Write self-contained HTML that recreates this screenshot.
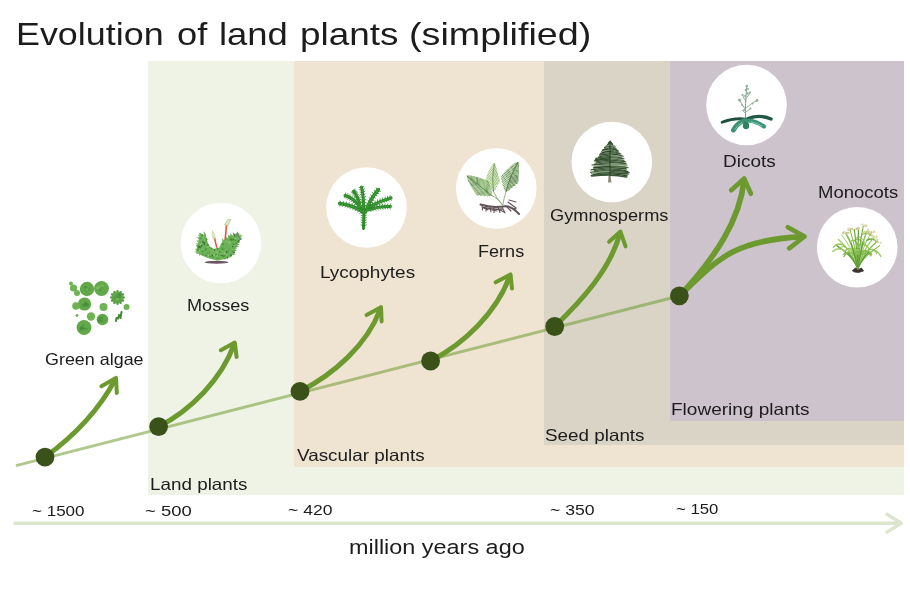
<!DOCTYPE html>
<html><head><meta charset="utf-8">
<style>
html,body{margin:0;padding:0;background:#fff;}
body{width:910px;height:607px;position:relative;overflow:hidden;font-family:"Liberation Sans",sans-serif;color:#1c1c1c;}
.r{position:absolute;}
.t{position:absolute;white-space:nowrap;line-height:1;transform-origin:0 0;}
svg{position:absolute;left:0;top:0;}
</style></head><body>
<div class="r" style="left:147.5px;top:61px;width:756px;height:434px;background:#eff3e6"></div>
<div class="r" style="left:294px;top:61px;width:609.5px;height:406px;background:#efe3d2"></div>
<div class="r" style="left:544px;top:61px;width:359.5px;height:384px;background:#dad4c6"></div>
<div class="r" style="left:670px;top:61px;width:233.5px;height:360px;background:#cdc3cc"></div>
<svg width="910" height="607" viewBox="0 0 910 607">
<line x1="16" y1="465.600" x2="680" y2="295.700" stroke="#6d9a2f" stroke-opacity="0.55" stroke-width="3"/>
<g fill="none" stroke="#6d9a2f" stroke-width="5" stroke-linecap="round" stroke-linejoin="round">
<path d="M45.0 457.1 C72.9 436.8 98.9 410.1 115.1 379.6"/><path stroke-width="4" d="M101.4 386.3 L116.0 377.9 L116.8 392.9"/>
<path d="M158.6 426.6 C191.4 409.9 221.5 379.0 234.1 344.4"/><path stroke-width="4" d="M220.8 350.2 L234.8 342.6 L236.6 357.0"/>
<path d="M300.0 391.4 C333.8 374.2 367.3 344.7 380.3 309.0"/><path stroke-width="4" d="M366.6 315.1 L381.0 307.2 L381.6 321.4"/>
<path d="M430.6 361.0 C464.7 343.6 496.7 312.2 509.8 276.2"/><path stroke-width="4" d="M495.7 282.3 L510.5 274.4 L512.0 288.6"/>
<path d="M554.7 326.5 C581.7 300.4 610.2 269.6 619.9 233.4"/><path stroke-width="4" d="M609.1 241.8 L620.4 231.6 L625.6 246.4"/>
<path stroke-width="5.7" d="M679.8 295.7 C715.8 257.1 739.8 219.8 744.0 180.5"/><path stroke-width="4.7" d="M731.2 190.3 L744.2 178.6 L750.9 193.7"/>
<path stroke-width="5.7" d="M679.8 295.7 C719.0 257.8 734.5 240.1 802.6 236.6"/><path stroke-width="4.7" d="M787.8 227.2 L804.5 236.5 L789.2 248.3"/>
</g>
<g fill="#3a5219">
<circle cx="45" cy="457.100" r="9.400"/><circle cx="158.600" cy="426.600" r="9.400"/><circle cx="300" cy="391.400" r="9.400"/>
<circle cx="430.600" cy="361" r="9.400"/><circle cx="554.700" cy="326.500" r="9.400"/><circle cx="679.400" cy="295.800" r="9.400"/>
</g>
<line x1="13.600" y1="523.200" x2="900" y2="523.200" stroke="#dce5cd" stroke-width="3.400"/>
<path d="M887 514.300 L901.300 523.200 L887 532" fill="none" stroke="#dce5cd" stroke-width="3.400" stroke-linecap="round" stroke-linejoin="round"/>
<g fill="#fff">
<circle cx="221" cy="243" r="40.300"/><circle cx="366.500" cy="207.500" r="40.300"/><circle cx="496.300" cy="188.500" r="40.300"/>
<circle cx="611.800" cy="162" r="40.300"/><circle cx="746.500" cy="105" r="40.300"/><circle cx="857.200" cy="247.200" r="40.300"/>
</g>
<!--PLANTS-->
<defs><filter id="bl" x="-20%" y="-20%" width="140%" height="140%"><feGaussianBlur stdDeviation="0.45"/></filter><filter id="bl2" x="-20%" y="-20%" width="140%" height="140%"><feGaussianBlur stdDeviation="0.3"/></filter></defs>
<!-- algae --><g filter="url(#bl)"><circle cx="87.0" cy="289.0" r="7.2" fill="#62a848"/><circle cx="86.7" cy="289.6" r="1.8" fill="#4f9640"/><circle cx="87.2" cy="288.6" r="1.7" fill="#57a044"/><circle cx="88.8" cy="289.4" r="1.1" fill="#4f9640"/><circle cx="86.8" cy="288.9" r="1.7" fill="#57a044"/><circle cx="85.3" cy="287.2" r="1.1" fill="#4a8f3b"/><circle cx="87.9" cy="289.3" r="1.7" fill="#57a044"/><circle cx="86.8" cy="289.6" r="1.1" fill="#7aba5e"/><circle cx="101.5" cy="288.5" r="7.4" fill="#62a848"/><circle cx="98.7" cy="287.4" r="1.1" fill="#57a044"/><circle cx="99.8" cy="290.2" r="1.1" fill="#4f9640"/><circle cx="99.9" cy="287.0" r="1.6" fill="#7aba5e"/><circle cx="97.5" cy="289.4" r="1.4" fill="#57a044"/><circle cx="102.3" cy="285.5" r="1.3" fill="#7aba5e"/><circle cx="97.7" cy="287.9" r="1.9" fill="#7aba5e"/><circle cx="101.2" cy="288.3" r="1.6" fill="#57a044"/><circle cx="84.5" cy="304.0" r="6.6" fill="#62a848"/><circle cx="84.5" cy="303.4" r="1.6" fill="#4f9640"/><circle cx="84.8" cy="303.9" r="1.7" fill="#7aba5e"/><circle cx="83.8" cy="305.2" r="1.6" fill="#4a8f3b"/><circle cx="84.8" cy="304.2" r="1.3" fill="#4f9640"/><circle cx="87.1" cy="305.0" r="1.8" fill="#4a8f3b"/><circle cx="84.2" cy="305.5" r="1.8" fill="#4f9640"/><circle cx="85.8" cy="303.5" r="1.7" fill="#4a8f3b"/><circle cx="84.0" cy="327.5" r="7.4" fill="#62a848"/><circle cx="87.2" cy="328.7" r="1.2" fill="#57a044"/><circle cx="80.7" cy="329.9" r="1.6" fill="#57a044"/><circle cx="81.7" cy="328.3" r="2.1" fill="#4a8f3b"/><circle cx="84.8" cy="326.6" r="1.5" fill="#7aba5e"/><circle cx="83.3" cy="326.0" r="1.3" fill="#4f9640"/><circle cx="84.5" cy="328.4" r="1.3" fill="#4a8f3b"/><circle cx="84.4" cy="326.8" r="1.3" fill="#57a044"/><circle cx="102.5" cy="319.5" r="5.8" fill="#62a848"/><circle cx="101.4" cy="320.1" r="1.7" fill="#57a044"/><circle cx="101.8" cy="317.8" r="1.7" fill="#4f9640"/><circle cx="99.6" cy="320.3" r="2.1" fill="#4a8f3b"/><circle cx="101.4" cy="320.3" r="1.6" fill="#4a8f3b"/><circle cx="102.7" cy="319.6" r="1.3" fill="#57a044"/><circle cx="104.1" cy="320.8" r="1.1" fill="#57a044"/><circle cx="99.3" cy="318.8" r="1.7" fill="#4f9640"/><circle cx="117.5" cy="297.5" r="6.2" fill="#62a848"/><circle cx="119.1" cy="295.9" r="1.2" fill="#7aba5e"/><circle cx="119.7" cy="296.9" r="1.6" fill="#4f9640"/><circle cx="119.6" cy="294.5" r="1.6" fill="#4a8f3b"/><circle cx="117.3" cy="298.0" r="1.9" fill="#7aba5e"/><circle cx="114.9" cy="297.8" r="1.6" fill="#57a044"/><circle cx="119.4" cy="296.9" r="1.2" fill="#4f9640"/><circle cx="117.6" cy="296.4" r="1.8" fill="#4f9640"/><circle cx="73.5" cy="288.0" r="3.6" fill="#70b355"/><circle cx="77.0" cy="293.0" r="3.0" fill="#70b355"/><circle cx="71.0" cy="283.5" r="2.0" fill="#70b355"/><circle cx="76.0" cy="306.0" r="3.8" fill="#70b355"/><circle cx="103.5" cy="307.0" r="4.0" fill="#70b355"/><circle cx="126.5" cy="307.0" r="3.0" fill="#70b355"/><circle cx="91.0" cy="316.5" r="4.2" fill="#70b355"/><circle cx="77.0" cy="315.5" r="1.4" fill="#70b355"/><circle cx="123.9" cy="297.5" r="1.1" fill="#4f9640"/><circle cx="123.0" cy="300.7" r="1.1" fill="#4f9640"/><circle cx="120.7" cy="303.0" r="1.1" fill="#4f9640"/><circle cx="117.5" cy="303.9" r="1.1" fill="#4f9640"/><circle cx="114.3" cy="303.0" r="1.1" fill="#4f9640"/><circle cx="112.0" cy="300.7" r="1.1" fill="#4f9640"/><circle cx="111.1" cy="297.5" r="1.1" fill="#4f9640"/><circle cx="112.0" cy="294.3" r="1.1" fill="#4f9640"/><circle cx="114.3" cy="292.0" r="1.1" fill="#4f9640"/><circle cx="117.5" cy="291.1" r="1.1" fill="#4f9640"/><circle cx="120.7" cy="292.0" r="1.1" fill="#4f9640"/><circle cx="123.0" cy="294.3" r="1.1" fill="#4f9640"/><path d="M121.5 312 l-1 6 M119 315 l-.8 3.500 M116.500 318 l-.5 3" stroke="#3f8a35" stroke-width="2" stroke-linecap="round" fill="none"/></g>
<!-- moss --><g transform="translate(181,203)" filter="url(#bl2)"><ellipse cx="35.500" cy="59.300" rx="12" ry="1.500" fill="#6b5562"/><path d="M15.0 48.5 L17.0 40.0 L19.0 29.5 L22.0 32.0 L24.5 30.5 L26.0 38.0 L28.5 43.5 L33.0 46.0 L38.0 45.0 L42.0 37.5 L48.0 34.0 L55.0 30.5 L60.0 32.5 L59.0 37.0 L56.0 42.0 L53.0 50.0 L50.0 54.0 L44.0 56.0 L37.0 57.5 L30.0 56.0 L24.0 54.0 L18.0 51.0 Z" fill="#6db158"/><path d="M15.7 45.7 L13.9 45.7 L15.3 47.4 Z" fill="#6bb055"/><path d="M16.5 42.2 L14.6 42.2 L16.1 44.0 Z" fill="#5ea64a"/><path d="M16.9 40.4 L14.5 40.3 L16.5 42.2 Z" fill="#6bb055"/><path d="M17.5 37.4 L15.3 37.4 L17.1 39.2 Z" fill="#5ea64a"/><path d="M18.1 34.4 L15.6 34.3 L17.7 36.1 Z" fill="#4f9640"/><path d="M18.6 31.8 L16.9 31.9 L18.2 33.5 Z" fill="#6bb055"/><path d="M18.8 30.3 L17.5 30.5 L18.5 32.1 Z" fill="#5ea64a"/><path d="M20.7 30.9 L20.2 32.4 L22.1 32.1 Z" fill="#5ea64a"/><path d="M24.5 30.5 L22.4 28.3 L23.0 31.4 Z" fill="#6bb055"/><path d="M24.7 31.6 L22.7 32.5 L25.1 33.4 Z" fill="#6bb055"/><path d="M25.3 34.5 L23.8 35.2 L25.7 36.3 Z" fill="#5ea64a"/><path d="M25.4 34.9 L23.7 35.6 L25.7 36.6 Z" fill="#6bb055"/><path d="M25.9 37.7 L24.4 38.9 L26.6 39.4 Z" fill="#4f9640"/><path d="M27.9 42.2 L26.6 43.3 L28.7 43.9 Z" fill="#4f9640"/><path d="M28.5 43.5 L28.3 45.3 L30.1 44.4 Z" fill="#4f9640"/><path d="M30.2 44.5 L30.2 45.9 L31.8 45.3 Z" fill="#4f9640"/><path d="M34.0 45.8 L35.2 47.0 L35.8 45.4 Z" fill="#5ea64a"/><path d="M35.7 45.5 L37.0 46.8 L37.5 45.1 Z" fill="#5ea64a"/><path d="M38.6 43.8 L41.3 43.7 L39.5 42.2 Z" fill="#6bb055"/><path d="M39.5 42.1 L41.9 41.9 L40.4 40.5 Z" fill="#5ea64a"/><path d="M41.2 39.0 L42.9 38.4 L42.1 37.4 Z" fill="#5ea64a"/><path d="M42.8 37.0 L41.0 35.2 L41.3 37.9 Z" fill="#6bb055"/><path d="M46.4 34.9 L44.9 33.7 L44.8 35.8 Z" fill="#4f9640"/><path d="M48.7 33.6 L46.9 31.7 L47.2 34.5 Z" fill="#6bb055"/><path d="M49.2 33.4 L47.5 31.6 L47.6 34.2 Z" fill="#5ea64a"/><path d="M51.2 32.4 L49.2 30.0 L49.6 33.2 Z" fill="#4f9640"/><path d="M53.7 31.1 L51.9 29.0 L52.1 31.9 Z" fill="#5ea64a"/><path d="M56.9 31.3 L57.0 28.2 L55.2 30.6 Z" fill="#5ea64a"/><path d="M58.4 31.9 L58.1 29.6 L56.7 31.2 Z" fill="#4f9640"/><path d="M59.7 33.9 L61.9 33.0 L60.1 32.2 Z" fill="#6bb055"/><path d="M59.0 36.9 L61.5 36.0 L59.4 35.1 Z" fill="#5ea64a"/><path d="M57.2 40.0 L59.1 39.6 L58.1 38.5 Z" fill="#6bb055"/><path d="M56.0 41.9 L58.5 41.9 L57.0 40.4 Z" fill="#4f9640"/><path d="M55.3 44.0 L57.9 43.5 L55.9 42.3 Z" fill="#4f9640"/><path d="M54.6 45.9 L56.2 45.0 L55.2 44.2 Z" fill="#4f9640"/><path d="M53.7 48.2 L55.7 47.5 L54.3 46.5 Z" fill="#5ea64a"/><path d="M51.5 51.9 L53.9 52.1 L52.6 50.5 Z" fill="#5ea64a"/><path d="M18.2 51.1 L18.1 52.8 L19.8 51.9 Z" fill="#5ea64a"/><path d="M16.0 49.3 L15.4 51.0 L17.4 50.5 Z" fill="#4f9640"/><ellipse cx="27.0" cy="43.7" rx="1.2" ry="0.9" transform="rotate(178 27.0 43.7)" fill="#8fcb78"/><ellipse cx="38.6" cy="54.4" rx="1.6" ry="0.8" transform="rotate(51 38.6 54.4)" fill="#6db757"/><ellipse cx="53.5" cy="33.0" rx="1.2" ry="0.6" transform="rotate(171 53.5 33.0)" fill="#4a9039"/><ellipse cx="45.5" cy="51.7" rx="0.9" ry="0.8" transform="rotate(169 45.5 51.7)" fill="#8fcb78"/><ellipse cx="20.5" cy="42.6" rx="1.7" ry="0.6" transform="rotate(124 20.5 42.6)" fill="#35742d"/><ellipse cx="21.7" cy="48.4" rx="0.9" ry="0.6" transform="rotate(131 21.7 48.4)" fill="#3f8233"/><ellipse cx="35.6" cy="49.4" rx="1.1" ry="0.7" transform="rotate(131 35.6 49.4)" fill="#7fc267"/><ellipse cx="59.2" cy="32.3" rx="1.0" ry="0.8" transform="rotate(21 59.2 32.3)" fill="#8fcb78"/><ellipse cx="50.6" cy="36.8" rx="1.5" ry="0.8" transform="rotate(173 50.6 36.8)" fill="#3f8233"/><ellipse cx="52.5" cy="36.5" rx="1.3" ry="0.7" transform="rotate(126 52.5 36.5)" fill="#3f8233"/><ellipse cx="16.7" cy="49.0" rx="1.6" ry="0.5" transform="rotate(4 16.7 49.0)" fill="#7fc267"/><ellipse cx="43.8" cy="52.2" rx="1.3" ry="0.5" transform="rotate(67 43.8 52.2)" fill="#4a9039"/><ellipse cx="54.6" cy="42.2" rx="1.7" ry="0.6" transform="rotate(68 54.6 42.2)" fill="#6db757"/><ellipse cx="43.5" cy="44.4" rx="1.1" ry="0.7" transform="rotate(45 43.5 44.4)" fill="#3f8233"/><ellipse cx="26.7" cy="52.3" rx="0.8" ry="0.4" transform="rotate(129 26.7 52.3)" fill="#6db757"/><ellipse cx="36.3" cy="56.1" rx="1.4" ry="0.7" transform="rotate(168 36.3 56.1)" fill="#4a9039"/><ellipse cx="37.3" cy="53.2" rx="1.7" ry="0.6" transform="rotate(55 37.3 53.2)" fill="#7fc267"/><ellipse cx="53.1" cy="49.5" rx="0.9" ry="0.9" transform="rotate(13 53.1 49.5)" fill="#35742d"/><ellipse cx="43.4" cy="54.5" rx="0.9" ry="0.4" transform="rotate(97 43.4 54.5)" fill="#7fc267"/><ellipse cx="27.8" cy="42.3" rx="1.0" ry="0.4" transform="rotate(93 27.8 42.3)" fill="#3f8233"/><ellipse cx="24.9" cy="46.0" rx="1.6" ry="0.5" transform="rotate(152 24.9 46.0)" fill="#57a044"/><ellipse cx="48.0" cy="47.7" rx="1.5" ry="0.8" transform="rotate(131 48.0 47.7)" fill="#4a9039"/><ellipse cx="43.5" cy="50.3" rx="1.3" ry="0.9" transform="rotate(129 43.5 50.3)" fill="#8fcb78"/><ellipse cx="40.7" cy="52.6" rx="1.5" ry="0.7" transform="rotate(174 40.7 52.6)" fill="#4a9039"/><ellipse cx="26.4" cy="42.3" rx="1.5" ry="0.7" transform="rotate(137 26.4 42.3)" fill="#4a9039"/><ellipse cx="18.3" cy="44.3" rx="1.5" ry="0.5" transform="rotate(19 18.3 44.3)" fill="#35742d"/><ellipse cx="53.8" cy="35.8" rx="1.0" ry="0.8" transform="rotate(117 53.8 35.8)" fill="#8fcb78"/><ellipse cx="36.5" cy="48.8" rx="0.8" ry="0.7" transform="rotate(50 36.5 48.8)" fill="#8fcb78"/><ellipse cx="25.9" cy="50.6" rx="1.4" ry="0.5" transform="rotate(123 25.9 50.6)" fill="#6db757"/><ellipse cx="45.6" cy="49.1" rx="1.2" ry="0.8" transform="rotate(73 45.6 49.1)" fill="#35742d"/><ellipse cx="35.6" cy="52.8" rx="1.7" ry="0.6" transform="rotate(53 35.6 52.8)" fill="#7fc267"/><ellipse cx="49.1" cy="36.6" rx="0.9" ry="0.8" transform="rotate(130 49.1 36.6)" fill="#6db757"/><ellipse cx="55.2" cy="40.4" rx="0.8" ry="0.6" transform="rotate(115 55.2 40.4)" fill="#3f8233"/><ellipse cx="33.1" cy="50.1" rx="1.1" ry="0.6" transform="rotate(84 33.1 50.1)" fill="#7fc267"/><ellipse cx="53.4" cy="32.5" rx="1.4" ry="0.9" transform="rotate(74 53.4 32.5)" fill="#3f8233"/><ellipse cx="32.3" cy="54.2" rx="1.1" ry="0.6" transform="rotate(70 32.3 54.2)" fill="#4a9039"/><ellipse cx="54.1" cy="37.1" rx="1.6" ry="0.5" transform="rotate(38 54.1 37.1)" fill="#4a9039"/><ellipse cx="25.7" cy="36.7" rx="1.1" ry="0.8" transform="rotate(109 25.7 36.7)" fill="#57a044"/><ellipse cx="43.7" cy="55.5" rx="1.3" ry="0.8" transform="rotate(12 43.7 55.5)" fill="#57a044"/><ellipse cx="54.9" cy="43.1" rx="0.9" ry="0.6" transform="rotate(87 54.9 43.1)" fill="#57a044"/><ellipse cx="48.7" cy="47.9" rx="1.4" ry="0.6" transform="rotate(142 48.7 47.9)" fill="#7fc267"/><ellipse cx="37.5" cy="52.5" rx="1.0" ry="0.9" transform="rotate(115 37.5 52.5)" fill="#57a044"/><ellipse cx="31.3" cy="52.5" rx="1.6" ry="0.8" transform="rotate(105 31.3 52.5)" fill="#3f8233"/><ellipse cx="32.0" cy="50.6" rx="1.1" ry="0.6" transform="rotate(15 32.0 50.6)" fill="#3f8233"/><ellipse cx="37.4" cy="45.7" rx="0.9" ry="0.7" transform="rotate(161 37.4 45.7)" fill="#6db757"/><ellipse cx="32.1" cy="47.7" rx="1.7" ry="0.8" transform="rotate(5 32.1 47.7)" fill="#7fc267"/><ellipse cx="20.0" cy="41.3" rx="1.6" ry="0.6" transform="rotate(150 20.0 41.3)" fill="#8fcb78"/><ellipse cx="35.1" cy="51.7" rx="0.9" ry="0.7" transform="rotate(174 35.1 51.7)" fill="#3f8233"/><ellipse cx="46.9" cy="53.5" rx="0.9" ry="0.8" transform="rotate(0 46.9 53.5)" fill="#7fc267"/><ellipse cx="50.8" cy="35.7" rx="1.4" ry="0.6" transform="rotate(32 50.8 35.7)" fill="#4a9039"/><ellipse cx="43.4" cy="44.3" rx="1.4" ry="0.5" transform="rotate(18 43.4 44.3)" fill="#7fc267"/><ellipse cx="23.0" cy="36.6" rx="1.3" ry="0.4" transform="rotate(77 23.0 36.6)" fill="#8fcb78"/><ellipse cx="28.9" cy="53.3" rx="1.2" ry="0.5" transform="rotate(63 28.9 53.3)" fill="#3f8233"/><ellipse cx="24.7" cy="41.3" rx="1.0" ry="0.4" transform="rotate(86 24.7 41.3)" fill="#6db757"/><ellipse cx="47.8" cy="39.5" rx="1.0" ry="0.8" transform="rotate(129 47.8 39.5)" fill="#7fc267"/><ellipse cx="17.2" cy="43.4" rx="1.1" ry="0.8" transform="rotate(59 17.2 43.4)" fill="#3f8233"/><ellipse cx="55.8" cy="32.2" rx="1.2" ry="0.5" transform="rotate(57 55.8 32.2)" fill="#57a044"/><ellipse cx="36.8" cy="55.4" rx="1.7" ry="0.5" transform="rotate(100 36.8 55.4)" fill="#4a9039"/><ellipse cx="42.0" cy="41.0" rx="0.9" ry="0.6" transform="rotate(80 42.0 41.0)" fill="#35742d"/><ellipse cx="57.8" cy="38.5" rx="1.4" ry="0.7" transform="rotate(119 57.8 38.5)" fill="#3f8233"/><ellipse cx="15.5" cy="48.3" rx="1.6" ry="0.9" transform="rotate(113 15.5 48.3)" fill="#7fc267"/><ellipse cx="58.9" cy="32.6" rx="1.0" ry="0.6" transform="rotate(79 58.9 32.6)" fill="#8fcb78"/><ellipse cx="52.6" cy="41.5" rx="1.4" ry="0.5" transform="rotate(138 52.6 41.5)" fill="#4a9039"/><ellipse cx="57.2" cy="34.6" rx="1.5" ry="0.6" transform="rotate(161 57.2 34.6)" fill="#6db757"/><ellipse cx="33.3" cy="52.5" rx="1.2" ry="0.6" transform="rotate(118 33.3 52.5)" fill="#8fcb78"/><ellipse cx="26.1" cy="50.7" rx="1.1" ry="0.5" transform="rotate(157 26.1 50.7)" fill="#57a044"/><ellipse cx="28.0" cy="49.9" rx="1.6" ry="0.7" transform="rotate(16 28.0 49.9)" fill="#57a044"/><ellipse cx="36.3" cy="56.7" rx="1.1" ry="0.5" transform="rotate(110 36.3 56.7)" fill="#8fcb78"/><ellipse cx="52.3" cy="32.8" rx="1.0" ry="0.8" transform="rotate(77 52.3 32.8)" fill="#7fc267"/><ellipse cx="42.5" cy="38.5" rx="1.2" ry="0.8" transform="rotate(152 42.5 38.5)" fill="#6db757"/><ellipse cx="49.4" cy="36.2" rx="1.4" ry="0.6" transform="rotate(139 49.4 36.2)" fill="#4a9039"/><ellipse cx="18.5" cy="43.5" rx="1.7" ry="0.5" transform="rotate(34 18.5 43.5)" fill="#35742d"/><ellipse cx="33.6" cy="47.0" rx="1.0" ry="0.7" transform="rotate(170 33.6 47.0)" fill="#35742d"/><ellipse cx="49.7" cy="51.6" rx="1.1" ry="0.7" transform="rotate(95 49.7 51.6)" fill="#6db757"/><ellipse cx="25.1" cy="37.2" rx="1.0" ry="0.4" transform="rotate(64 25.1 37.2)" fill="#57a044"/><ellipse cx="24.9" cy="52.4" rx="1.2" ry="0.4" transform="rotate(1 24.9 52.4)" fill="#35742d"/><ellipse cx="36.3" cy="52.8" rx="1.2" ry="0.6" transform="rotate(75 36.3 52.8)" fill="#8fcb78"/><ellipse cx="42.2" cy="53.0" rx="1.6" ry="0.6" transform="rotate(45 42.2 53.0)" fill="#3f8233"/><ellipse cx="19.0" cy="46.3" rx="1.1" ry="0.4" transform="rotate(87 19.0 46.3)" fill="#57a044"/><ellipse cx="20.6" cy="34.9" rx="0.8" ry="0.8" transform="rotate(52 20.6 34.9)" fill="#6db757"/><ellipse cx="51.4" cy="48.3" rx="1.4" ry="0.4" transform="rotate(41 51.4 48.3)" fill="#3f8233"/><ellipse cx="50.0" cy="52.3" rx="1.0" ry="0.8" transform="rotate(52 50.0 52.3)" fill="#35742d"/><ellipse cx="21.4" cy="32.3" rx="1.2" ry="0.8" transform="rotate(117 21.4 32.3)" fill="#4a9039"/><ellipse cx="51.9" cy="40.5" rx="1.4" ry="0.6" transform="rotate(129 51.9 40.5)" fill="#57a044"/><ellipse cx="22.1" cy="39.1" rx="1.3" ry="0.9" transform="rotate(27 22.1 39.1)" fill="#3f8233"/><ellipse cx="32.0" cy="50.9" rx="1.7" ry="0.5" transform="rotate(32 32.0 50.9)" fill="#8fcb78"/><ellipse cx="56.9" cy="38.1" rx="1.6" ry="0.6" transform="rotate(158 56.9 38.1)" fill="#57a044"/><ellipse cx="46.3" cy="54.8" rx="1.5" ry="0.5" transform="rotate(103 46.3 54.8)" fill="#35742d"/><ellipse cx="36.2" cy="45.4" rx="1.2" ry="0.7" transform="rotate(98 36.2 45.4)" fill="#4a9039"/><ellipse cx="45.4" cy="38.4" rx="1.3" ry="0.7" transform="rotate(160 45.4 38.4)" fill="#7fc267"/><ellipse cx="50.6" cy="47.8" rx="1.3" ry="0.6" transform="rotate(168 50.6 47.8)" fill="#6db757"/><ellipse cx="35.0" cy="46.9" rx="1.2" ry="0.5" transform="rotate(121 35.0 46.9)" fill="#8fcb78"/><ellipse cx="51.7" cy="43.6" rx="0.8" ry="0.7" transform="rotate(21 51.7 43.6)" fill="#35742d"/><ellipse cx="57.3" cy="38.1" rx="1.3" ry="0.4" transform="rotate(129 57.3 38.1)" fill="#35742d"/><ellipse cx="17.1" cy="46.8" rx="1.5" ry="0.5" transform="rotate(125 17.1 46.8)" fill="#35742d"/><ellipse cx="27.5" cy="52.5" rx="0.9" ry="0.8" transform="rotate(56 27.5 52.5)" fill="#8fcb78"/><ellipse cx="49.5" cy="33.6" rx="1.0" ry="0.8" transform="rotate(36 49.5 33.6)" fill="#57a044"/><ellipse cx="36.6" cy="46.2" rx="1.3" ry="0.6" transform="rotate(9 36.6 46.2)" fill="#57a044"/><ellipse cx="23.4" cy="40.7" rx="1.6" ry="0.7" transform="rotate(96 23.4 40.7)" fill="#35742d"/><ellipse cx="21.9" cy="51.8" rx="1.5" ry="0.4" transform="rotate(92 21.9 51.8)" fill="#4a9039"/><ellipse cx="38.5" cy="49.0" rx="1.0" ry="0.7" transform="rotate(100 38.5 49.0)" fill="#4a9039"/><ellipse cx="48.7" cy="39.8" rx="1.7" ry="0.7" transform="rotate(92 48.7 39.8)" fill="#7fc267"/><ellipse cx="24.8" cy="46.8" rx="1.1" ry="0.7" transform="rotate(79 24.8 46.8)" fill="#4a9039"/><ellipse cx="41.5" cy="48.2" rx="1.5" ry="0.8" transform="rotate(56 41.5 48.2)" fill="#6db757"/><ellipse cx="21.0" cy="46.9" rx="1.2" ry="0.6" transform="rotate(12 21.0 46.9)" fill="#7fc267"/><ellipse cx="20.2" cy="35.6" rx="0.8" ry="0.4" transform="rotate(145 20.2 35.6)" fill="#35742d"/><ellipse cx="41.4" cy="46.1" rx="1.1" ry="0.8" transform="rotate(40 41.4 46.1)" fill="#3f8233"/><ellipse cx="18.5" cy="47.5" rx="1.4" ry="0.5" transform="rotate(67 18.5 47.5)" fill="#8fcb78"/><ellipse cx="42.0" cy="45.8" rx="1.6" ry="0.8" transform="rotate(63 42.0 45.8)" fill="#57a044"/><ellipse cx="22.7" cy="33.6" rx="0.9" ry="0.7" transform="rotate(168 22.7 33.6)" fill="#8fcb78"/><path d="M56 31 L59.500 36" stroke="#6f8d7c" stroke-width="2" stroke-linecap="round"/><path d="M35.600 44 L33.400 34.500" stroke="#d95a3a" stroke-width="1.500" stroke-linecap="round"/><path d="M44.200 36.500 L45.500 22" stroke="#d95a3a" stroke-width="1.600" stroke-linecap="round"/><path d="M31.300 27.500 L34.600 35 L32 35.600 Z" fill="#e3e3b4" stroke="#c9d09a" stroke-width=".6"/><path d="M43.400 21.500 L47 16.300 L49.800 16.500 L47 22.800 Z" fill="#dfe8c0" stroke="#9cc08a" stroke-width=".6"/></g>
<!-- lycophyte --><g transform="translate(326,167)" filter="url(#bl2)" fill="none" stroke-linecap="round"><path d="M37.500 61.500 L38 45" stroke="#2f8c2c" stroke-width="3"/><path d="M37.5 45.5 Q27.0 38.0 13.5 36.5" stroke="#2f8c2c" stroke-width="3.4"/><path d="M37.5 45.5 Q27.0 38.0 13.5 36.5" stroke="#4aa53e" stroke-width="1.2"/><path d="M36.3 44.7 L36.8 41.8" stroke="#2c8429" stroke-width=".8"/><path d="M36.3 44.7 L33.8 46.3" stroke="#2c8429" stroke-width=".8"/><path d="M33.9 43.2 L34.2 40.2" stroke="#2c8429" stroke-width=".8"/><path d="M33.9 43.2 L31.5 44.9" stroke="#2c8429" stroke-width=".8"/><path d="M31.4 41.8 L31.6 38.8" stroke="#2c8429" stroke-width=".8"/><path d="M31.4 41.8 L29.2 43.7" stroke="#2c8429" stroke-width=".8"/><path d="M28.9 40.6 L28.8 37.6" stroke="#2c8429" stroke-width=".8"/><path d="M28.9 40.6 L26.7 42.6" stroke="#2c8429" stroke-width=".8"/><path d="M26.2 39.5 L26.0 36.6" stroke="#2c8429" stroke-width=".8"/><path d="M26.2 39.5 L24.2 41.6" stroke="#2c8429" stroke-width=".8"/><path d="M23.5 38.6 L23.2 35.6" stroke="#2c8429" stroke-width=".8"/><path d="M23.5 38.6 L21.6 40.8" stroke="#2c8429" stroke-width=".8"/><path d="M20.8 37.8 L20.2 34.9" stroke="#2c8429" stroke-width=".8"/><path d="M20.8 37.8 L19.0 40.1" stroke="#2c8429" stroke-width=".8"/><path d="M17.9 37.2 L17.2 34.3" stroke="#2c8429" stroke-width=".8"/><path d="M17.9 37.2 L16.3 39.6" stroke="#2c8429" stroke-width=".8"/><path d="M15.0 36.7 L14.1 33.9" stroke="#2c8429" stroke-width=".8"/><path d="M15.0 36.7 L13.5 39.2" stroke="#2c8429" stroke-width=".8"/><path d="M35.5 42.0 Q28.0 31.0 19.0 28.5" stroke="#2f8c2c" stroke-width="3"/><path d="M35.5 42.0 Q28.0 31.0 19.0 28.5" stroke="#4aa53e" stroke-width="1.0"/><path d="M34.7 40.8 L36.0 38.4" stroke="#2c8429" stroke-width=".8"/><path d="M34.7 40.8 L31.9 41.3" stroke="#2c8429" stroke-width=".8"/><path d="M33.0 38.6 L34.1 36.0" stroke="#2c8429" stroke-width=".8"/><path d="M33.0 38.6 L30.3 39.2" stroke="#2c8429" stroke-width=".8"/><path d="M31.2 36.5 L32.2 34.0" stroke="#2c8429" stroke-width=".8"/><path d="M31.2 36.5 L28.6 37.4" stroke="#2c8429" stroke-width=".8"/><path d="M29.4 34.7 L30.3 32.1" stroke="#2c8429" stroke-width=".8"/><path d="M29.4 34.7 L26.9 35.8" stroke="#2c8429" stroke-width=".8"/><path d="M27.6 33.1 L28.2 30.4" stroke="#2c8429" stroke-width=".8"/><path d="M27.6 33.1 L25.1 34.3" stroke="#2c8429" stroke-width=".8"/><path d="M25.8 31.7 L26.2 29.0" stroke="#2c8429" stroke-width=".8"/><path d="M25.8 31.7 L23.4 33.2" stroke="#2c8429" stroke-width=".8"/><path d="M23.9 30.5 L24.0 27.8" stroke="#2c8429" stroke-width=".8"/><path d="M23.9 30.5 L21.6 32.2" stroke="#2c8429" stroke-width=".8"/><path d="M22.0 29.6 L21.8 26.8" stroke="#2c8429" stroke-width=".8"/><path d="M22.0 29.6 L19.9 31.4" stroke="#2c8429" stroke-width=".8"/><path d="M20.0 28.8 L19.6 26.1" stroke="#2c8429" stroke-width=".8"/><path d="M20.0 28.8 L18.1 30.8" stroke="#2c8429" stroke-width=".8"/><path d="M34.0 37.0 Q31.0 28.0 27.5 24.0" stroke="#2f8c2c" stroke-width="2.8"/><path d="M34.0 37.0 Q31.0 28.0 27.5 24.0" stroke="#4aa53e" stroke-width="1.0"/><path d="M33.7 36.0 L35.5 34.1" stroke="#2c8429" stroke-width=".8"/><path d="M33.7 36.0 L31.0 35.7" stroke="#2c8429" stroke-width=".8"/><path d="M33.0 34.1 L34.8 32.2" stroke="#2c8429" stroke-width=".8"/><path d="M33.0 34.1 L30.3 33.9" stroke="#2c8429" stroke-width=".8"/><path d="M32.3 32.4 L34.0 30.3" stroke="#2c8429" stroke-width=".8"/><path d="M32.3 32.4 L29.6 32.2" stroke="#2c8429" stroke-width=".8"/><path d="M31.6 30.8 L33.3 28.7" stroke="#2c8429" stroke-width=".8"/><path d="M31.6 30.8 L28.9 30.7" stroke="#2c8429" stroke-width=".8"/><path d="M30.9 29.2 L32.5 27.1" stroke="#2c8429" stroke-width=".8"/><path d="M30.9 29.2 L28.2 29.3" stroke="#2c8429" stroke-width=".8"/><path d="M30.1 27.9 L31.6 25.6" stroke="#2c8429" stroke-width=".8"/><path d="M30.1 27.9 L27.5 28.0" stroke="#2c8429" stroke-width=".8"/><path d="M29.4 26.6 L30.8 24.3" stroke="#2c8429" stroke-width=".8"/><path d="M29.4 26.6 L26.7 26.9" stroke="#2c8429" stroke-width=".8"/><path d="M28.7 25.5 L29.9 23.1" stroke="#2c8429" stroke-width=".8"/><path d="M28.7 25.5 L26.0 25.9" stroke="#2c8429" stroke-width=".8"/><path d="M27.9 24.5 L29.0 22.0" stroke="#2c8429" stroke-width=".8"/><path d="M27.9 24.5 L25.3 25.1" stroke="#2c8429" stroke-width=".8"/><path d="M37.5 44.0 Q38.0 30.0 35.5 20.0" stroke="#2f8c2c" stroke-width="3"/><path d="M37.5 44.0 Q38.0 30.0 35.5 20.0" stroke="#4aa53e" stroke-width="1.0"/><path d="M37.5 42.5 L40.1 41.3" stroke="#2c8429" stroke-width=".8"/><path d="M37.5 42.5 L35.1 41.2" stroke="#2c8429" stroke-width=".8"/><path d="M37.6 39.4 L40.1 38.2" stroke="#2c8429" stroke-width=".8"/><path d="M37.6 39.4 L35.1 38.3" stroke="#2c8429" stroke-width=".8"/><path d="M37.5 36.5 L40.0 35.3" stroke="#2c8429" stroke-width=".8"/><path d="M37.5 36.5 L35.0 35.4" stroke="#2c8429" stroke-width=".8"/><path d="M37.4 33.7 L39.9 32.4" stroke="#2c8429" stroke-width=".8"/><path d="M37.4 33.7 L34.9 32.7" stroke="#2c8429" stroke-width=".8"/><path d="M37.2 31.0 L39.6 29.6" stroke="#2c8429" stroke-width=".8"/><path d="M37.2 31.0 L34.7 30.0" stroke="#2c8429" stroke-width=".8"/><path d="M37.0 28.4 L39.3 26.9" stroke="#2c8429" stroke-width=".8"/><path d="M37.0 28.4 L34.4 27.5" stroke="#2c8429" stroke-width=".8"/><path d="M36.7 25.9 L38.9 24.3" stroke="#2c8429" stroke-width=".8"/><path d="M36.7 25.9 L34.0 25.1" stroke="#2c8429" stroke-width=".8"/><path d="M36.2 23.4 L38.5 21.8" stroke="#2c8429" stroke-width=".8"/><path d="M36.2 23.4 L33.6 22.7" stroke="#2c8429" stroke-width=".8"/><path d="M35.8 21.1 L37.9 19.4" stroke="#2c8429" stroke-width=".8"/><path d="M35.8 21.1 L33.1 20.5" stroke="#2c8429" stroke-width=".8"/><path d="M39.5 45.0 Q44.0 32.0 52.5 22.5" stroke="#2f8c2c" stroke-width="3.4"/><path d="M39.5 45.0 Q44.0 32.0 52.5 22.5" stroke="#4aa53e" stroke-width="1.2"/><path d="M40.0 43.6 L43.0 43.4" stroke="#2c8429" stroke-width=".8"/><path d="M40.0 43.6 L37.9 41.5" stroke="#2c8429" stroke-width=".8"/><path d="M41.1 40.8 L44.1 40.7" stroke="#2c8429" stroke-width=".8"/><path d="M41.1 40.8 L39.1 38.6" stroke="#2c8429" stroke-width=".8"/><path d="M42.3 38.0 L45.3 38.1" stroke="#2c8429" stroke-width=".8"/><path d="M42.3 38.0 L40.4 35.8" stroke="#2c8429" stroke-width=".8"/><path d="M43.6 35.4 L46.6 35.6" stroke="#2c8429" stroke-width=".8"/><path d="M43.6 35.4 L41.8 33.1" stroke="#2c8429" stroke-width=".8"/><path d="M45.0 32.9 L47.9 33.2" stroke="#2c8429" stroke-width=".8"/><path d="M45.0 32.9 L43.3 30.5" stroke="#2c8429" stroke-width=".8"/><path d="M46.5 30.4 L49.4 30.9" stroke="#2c8429" stroke-width=".8"/><path d="M46.5 30.4 L44.9 27.9" stroke="#2c8429" stroke-width=".8"/><path d="M48.1 28.0 L51.0 28.7" stroke="#2c8429" stroke-width=".8"/><path d="M48.1 28.0 L46.6 25.5" stroke="#2c8429" stroke-width=".8"/><path d="M49.8 25.8 L52.6 26.5" stroke="#2c8429" stroke-width=".8"/><path d="M49.8 25.8 L48.4 23.1" stroke="#2c8429" stroke-width=".8"/><path d="M51.6 23.6 L54.4 24.4" stroke="#2c8429" stroke-width=".8"/><path d="M51.6 23.6 L50.3 20.9" stroke="#2c8429" stroke-width=".8"/><path d="M43.0 40.0 Q54.0 34.0 65.0 31.0" stroke="#2f8c2c" stroke-width="3.2"/><path d="M43.0 40.0 Q54.0 34.0 65.0 31.0" stroke="#4aa53e" stroke-width="1.1"/><path d="M44.2 39.3 L46.5 41.1" stroke="#2c8429" stroke-width=".8"/><path d="M44.2 39.3 L44.1 36.5" stroke="#2c8429" stroke-width=".8"/><path d="M46.7 38.1 L48.9 39.9" stroke="#2c8429" stroke-width=".8"/><path d="M46.7 38.1 L46.6 35.2" stroke="#2c8429" stroke-width=".8"/><path d="M49.1 36.9 L51.3 38.8" stroke="#2c8429" stroke-width=".8"/><path d="M49.1 36.9 L49.1 34.0" stroke="#2c8429" stroke-width=".8"/><path d="M51.6 35.8 L53.7 37.7" stroke="#2c8429" stroke-width=".8"/><path d="M51.6 35.8 L51.6 32.9" stroke="#2c8429" stroke-width=".8"/><path d="M54.0 34.8 L56.1 36.7" stroke="#2c8429" stroke-width=".8"/><path d="M54.0 34.8 L54.1 31.9" stroke="#2c8429" stroke-width=".8"/><path d="M56.4 33.8 L58.5 35.8" stroke="#2c8429" stroke-width=".8"/><path d="M56.4 33.8 L56.7 30.9" stroke="#2c8429" stroke-width=".8"/><path d="M58.9 32.9 L60.9 35.0" stroke="#2c8429" stroke-width=".8"/><path d="M58.9 32.9 L59.2 30.0" stroke="#2c8429" stroke-width=".8"/><path d="M61.3 32.1 L63.3 34.2" stroke="#2c8429" stroke-width=".8"/><path d="M61.3 32.1 L61.7 29.2" stroke="#2c8429" stroke-width=".8"/><path d="M63.8 31.3 L65.6 33.5" stroke="#2c8429" stroke-width=".8"/><path d="M63.8 31.3 L64.2 28.5" stroke="#2c8429" stroke-width=".8"/><path d="M42.0 43.0 Q53.0 39.0 64.5 39.5" stroke="#2f8c2c" stroke-width="3"/><path d="M42.0 43.0 Q53.0 39.0 64.5 39.5" stroke="#4aa53e" stroke-width="1.0"/><path d="M43.2 42.6 L45.1 44.6" stroke="#2c8429" stroke-width=".8"/><path d="M43.2 42.6 L43.6 39.8" stroke="#2c8429" stroke-width=".8"/><path d="M45.7 41.8 L47.5 43.9" stroke="#2c8429" stroke-width=".8"/><path d="M45.7 41.8 L46.2 39.1" stroke="#2c8429" stroke-width=".8"/><path d="M48.1 41.1 L49.9 43.3" stroke="#2c8429" stroke-width=".8"/><path d="M48.1 41.1 L48.7 38.4" stroke="#2c8429" stroke-width=".8"/><path d="M50.6 40.6 L52.3 42.8" stroke="#2c8429" stroke-width=".8"/><path d="M50.6 40.6 L51.3 37.9" stroke="#2c8429" stroke-width=".8"/><path d="M53.1 40.1 L54.7 42.4" stroke="#2c8429" stroke-width=".8"/><path d="M53.1 40.1 L54.0 37.5" stroke="#2c8429" stroke-width=".8"/><path d="M55.6 39.8 L57.1 42.2" stroke="#2c8429" stroke-width=".8"/><path d="M55.6 39.8 L56.6 37.2" stroke="#2c8429" stroke-width=".8"/><path d="M58.1 39.6 L59.5 42.0" stroke="#2c8429" stroke-width=".8"/><path d="M58.1 39.6 L59.2 37.0" stroke="#2c8429" stroke-width=".8"/><path d="M60.7 39.5 L61.9 41.9" stroke="#2c8429" stroke-width=".8"/><path d="M60.7 39.5 L61.9 36.9" stroke="#2c8429" stroke-width=".8"/><path d="M63.2 39.5 L64.3 42.0" stroke="#2c8429" stroke-width=".8"/><path d="M63.2 39.5 L64.5 37.0" stroke="#2c8429" stroke-width=".8"/><path d="M37.700 47.0 l-2.600 -1.200 M37.700 47.0 l2.600 -1.200" stroke="#2f8c2c" stroke-width=".9"/><path d="M37.700 49.4 l-2.600 -1.200 M37.700 49.4 l2.600 -1.200" stroke="#2f8c2c" stroke-width=".9"/><path d="M37.700 51.8 l-2.600 -1.200 M37.700 51.8 l2.600 -1.200" stroke="#2f8c2c" stroke-width=".9"/><path d="M37.700 54.2 l-2.600 -1.200 M37.700 54.2 l2.600 -1.200" stroke="#2f8c2c" stroke-width=".9"/><path d="M37.700 56.6 l-2.600 -1.200 M37.700 56.6 l2.600 -1.200" stroke="#2f8c2c" stroke-width=".9"/><path d="M37.700 59.0 l-2.600 -1.200 M37.700 59.0 l2.600 -1.200" stroke="#2f8c2c" stroke-width=".9"/></g>
<!-- fern --><g transform="translate(456,148)" filter="url(#bl2)" fill="none" stroke-linecap="round"><g stroke="#5f5259" stroke-width="1.100"><path d="M24.500 56.500 Q35 60 47 58.500 Q55 57 63 66" stroke-width="2"/><path d="M27 59.500 Q36 62 46 61" stroke-width="1.600"/><path d="M26 57 l.5 5 M30 58 l0 5 M34 59 l1 5 M38 59.500 l0 5 M42 59.500 l2 5 M46 59 l3 6 M50 58 l5 5 M52 54 l8 6 M53 52 l7 2 M28 60 l4 2 M36 62 l5 1 M56 60 l4 1 M44 62 l4 2"/></g><path d="M46.500 57 Q42 50 35.500 47.500 M46.500 57 Q40 50 37.500 43.500 M46.800 57 Q48 50 50 43.500" stroke="#7f9e63" stroke-width=".8"/><path d="M35.0 47.0 L35.2 43.5" stroke="#6fa052" stroke-width=".85"/><path d="M35.0 47.0 L31.5 48.0" stroke="#6fa052" stroke-width=".85"/><path d="M33.9 46.1 L34.3 40.1" stroke="#7cab5c" stroke-width=".85"/><path d="M33.9 46.1 L28.0 47.8" stroke="#6fa052" stroke-width=".85"/><path d="M32.7 45.2 L33.4 36.9" stroke="#7cab5c" stroke-width=".85"/><path d="M32.7 45.2 L24.7 47.5" stroke="#6fa052" stroke-width=".85"/><path d="M31.6 44.3 L32.4 34.0" stroke="#4f823c" stroke-width=".85"/><path d="M31.6 44.3 L21.7 47.1" stroke="#5f9146" stroke-width=".85"/><path d="M30.5 43.4 L31.3 32.9" stroke="#4f823c" stroke-width=".85"/><path d="M30.5 43.4 L20.4 46.3" stroke="#5f9146" stroke-width=".85"/><path d="M29.4 42.5 L30.1 32.5" stroke="#7cab5c" stroke-width=".85"/><path d="M29.4 42.5 L19.7 45.2" stroke="#5f9146" stroke-width=".85"/><path d="M28.3 41.6 L28.9 32.0" stroke="#7cab5c" stroke-width=".85"/><path d="M28.3 41.6 L19.1 44.2" stroke="#7cab5c" stroke-width=".85"/><path d="M27.1 40.7 L27.7 31.6" stroke="#7cab5c" stroke-width=".85"/><path d="M27.1 40.7 L18.4 43.2" stroke="#5f9146" stroke-width=".85"/><path d="M26.0 39.7 L26.6 31.2" stroke="#7cab5c" stroke-width=".85"/><path d="M26.0 39.7 L17.8 42.1" stroke="#6fa052" stroke-width=".85"/><path d="M24.8 38.8 L25.4 30.8" stroke="#6fa052" stroke-width=".85"/><path d="M24.8 38.8 L17.1 41.0" stroke="#5f9146" stroke-width=".85"/><path d="M23.7 37.9 L24.2 30.4" stroke="#4f823c" stroke-width=".85"/><path d="M23.7 37.9 L16.5 40.0" stroke="#6fa052" stroke-width=".85"/><path d="M22.5 36.9 L23.0 30.0" stroke="#5f9146" stroke-width=".85"/><path d="M22.5 36.9 L15.8 38.9" stroke="#5f9146" stroke-width=".85"/><path d="M21.3 36.0 L21.7 29.6" stroke="#4f823c" stroke-width=".85"/><path d="M21.3 36.0 L15.2 37.8" stroke="#4f823c" stroke-width=".85"/><path d="M20.2 35.1 L20.5 29.3" stroke="#5f9146" stroke-width=".85"/><path d="M20.2 35.1 L14.6 36.7" stroke="#4f823c" stroke-width=".85"/><path d="M19.0 34.1 L19.3 28.9" stroke="#7cab5c" stroke-width=".85"/><path d="M19.0 34.1 L14.0 35.6" stroke="#4f823c" stroke-width=".85"/><path d="M17.8 33.2 L18.1 28.6" stroke="#4f823c" stroke-width=".85"/><path d="M17.8 33.2 L13.4 34.5" stroke="#6fa052" stroke-width=".85"/><path d="M16.6 32.3 L16.9 28.3" stroke="#5f9146" stroke-width=".85"/><path d="M16.6 32.3 L12.8 33.4" stroke="#5f9146" stroke-width=".85"/><path d="M15.4 31.3 L15.6 28.0" stroke="#6fa052" stroke-width=".85"/><path d="M15.4 31.3 L12.3 32.3" stroke="#4f823c" stroke-width=".85"/><path d="M14.2 30.4 L14.4 27.8" stroke="#6fa052" stroke-width=".85"/><path d="M14.2 30.4 L11.8 31.1" stroke="#6fa052" stroke-width=".85"/><path d="M13.0 29.4 L13.1 27.7" stroke="#6fa052" stroke-width=".85"/><path d="M13.0 29.4 L11.4 29.9" stroke="#4f823c" stroke-width=".85"/><path d="M11.8 28.5 L11.8 27.7" stroke="#6fa052" stroke-width=".85"/><path d="M11.8 28.5 L11.1 28.7" stroke="#7cab5c" stroke-width=".85"/><path d="M35.5 47.5 Q24.0 38.0 11.2 28.0" stroke="#4f7f3e" stroke-width=".7"/><path d="M37.4 42.8 L39.6 40.8" stroke="#78a455" stroke-width=".85"/><path d="M37.4 42.8 L34.7 41.4" stroke="#93bd6c" stroke-width=".85"/><path d="M37.2 41.4 L41.1 38.0" stroke="#9fc67a" stroke-width=".85"/><path d="M37.2 41.4 L32.7 38.9" stroke="#9fc67a" stroke-width=".85"/><path d="M37.1 39.9 L42.5 35.3" stroke="#9fc67a" stroke-width=".85"/><path d="M37.1 39.9 L30.9 36.4" stroke="#86b160" stroke-width=".85"/><path d="M36.9 38.5 L43.6 33.0" stroke="#86b160" stroke-width=".85"/><path d="M36.9 38.5 L29.5 34.1" stroke="#9fc67a" stroke-width=".85"/><path d="M36.8 37.0 L43.3 31.9" stroke="#93bd6c" stroke-width=".85"/><path d="M36.8 37.0 L29.8 32.7" stroke="#78a455" stroke-width=".85"/><path d="M36.7 35.6 L43.0 30.9" stroke="#93bd6c" stroke-width=".85"/><path d="M36.7 35.6 L30.2 31.4" stroke="#9fc67a" stroke-width=".85"/><path d="M36.7 34.1 L42.6 29.8" stroke="#86b160" stroke-width=".85"/><path d="M36.7 34.1 L30.5 30.0" stroke="#93bd6c" stroke-width=".85"/><path d="M36.7 32.7 L42.3 28.7" stroke="#93bd6c" stroke-width=".85"/><path d="M36.7 32.7 L31.0 28.7" stroke="#86b160" stroke-width=".85"/><path d="M36.7 31.2 L42.0 27.6" stroke="#86b160" stroke-width=".85"/><path d="M36.7 31.2 L31.4 27.4" stroke="#86b160" stroke-width=".85"/><path d="M36.7 29.8 L41.7 26.5" stroke="#86b160" stroke-width=".85"/><path d="M36.7 29.8 L31.9 26.1" stroke="#93bd6c" stroke-width=".85"/><path d="M36.7 28.3 L41.4 25.3" stroke="#78a455" stroke-width=".85"/><path d="M36.7 28.3 L32.4 24.9" stroke="#93bd6c" stroke-width=".85"/><path d="M36.8 26.8 L41.1 24.2" stroke="#86b160" stroke-width=".85"/><path d="M36.8 26.8 L32.9 23.6" stroke="#86b160" stroke-width=".85"/><path d="M36.9 25.3 L40.8 23.0" stroke="#86b160" stroke-width=".85"/><path d="M36.9 25.3 L33.4 22.4" stroke="#93bd6c" stroke-width=".85"/><path d="M37.0 23.8 L40.5 21.9" stroke="#86b160" stroke-width=".85"/><path d="M37.0 23.8 L34.0 21.2" stroke="#86b160" stroke-width=".85"/><path d="M37.2 22.3 L40.2 20.7" stroke="#86b160" stroke-width=".85"/><path d="M37.2 22.3 L34.6 20.0" stroke="#86b160" stroke-width=".85"/><path d="M37.4 20.8 L39.9 19.5" stroke="#78a455" stroke-width=".85"/><path d="M37.4 20.8 L35.3 18.9" stroke="#93bd6c" stroke-width=".85"/><path d="M37.6 19.3 L39.5 18.3" stroke="#86b160" stroke-width=".85"/><path d="M37.6 19.3 L36.0 17.8" stroke="#9fc67a" stroke-width=".85"/><path d="M37.8 17.8 L39.2 17.1" stroke="#86b160" stroke-width=".85"/><path d="M37.8 17.8 L36.7 16.7" stroke="#93bd6c" stroke-width=".85"/><path d="M38.1 16.3 L38.7 16.0" stroke="#93bd6c" stroke-width=".85"/><path d="M38.1 16.3 L37.6 15.8" stroke="#93bd6c" stroke-width=".85"/><path d="M37.5 43.5 Q35.5 30.0 38.2 15.5" stroke="#5f8f48" stroke-width=".7"/><path d="M50.2 42.8 L53.6 41.5" stroke="#568b41" stroke-width=".85"/><path d="M50.2 42.8 L47.9 40.0" stroke="#568b41" stroke-width=".85"/><path d="M50.6 41.3 L56.3 39.3" stroke="#568b41" stroke-width=".85"/><path d="M50.6 41.3 L46.8 36.6" stroke="#568b41" stroke-width=".85"/><path d="M51.0 39.8 L58.9 37.2" stroke="#477938" stroke-width=".85"/><path d="M51.0 39.8 L45.9 33.3" stroke="#72a458" stroke-width=".85"/><path d="M51.4 38.4 L61.3 35.3" stroke="#568b41" stroke-width=".85"/><path d="M51.4 38.4 L45.1 30.2" stroke="#65994c" stroke-width=".85"/><path d="M51.9 36.9 L62.0 33.9" stroke="#568b41" stroke-width=".85"/><path d="M51.9 36.9 L45.6 28.5" stroke="#65994c" stroke-width=".85"/><path d="M52.4 35.5 L62.0 32.7" stroke="#477938" stroke-width=".85"/><path d="M52.4 35.5 L46.4 27.4" stroke="#477938" stroke-width=".85"/><path d="M52.9 34.1 L62.1 31.6" stroke="#477938" stroke-width=".85"/><path d="M52.9 34.1 L47.3 26.3" stroke="#72a458" stroke-width=".85"/><path d="M53.4 32.7 L62.1 30.4" stroke="#477938" stroke-width=".85"/><path d="M53.4 32.7 L48.2 25.2" stroke="#568b41" stroke-width=".85"/><path d="M53.9 31.3 L62.2 29.2" stroke="#477938" stroke-width=".85"/><path d="M53.9 31.3 L49.1 24.2" stroke="#477938" stroke-width=".85"/><path d="M54.4 29.9 L62.3 28.1" stroke="#477938" stroke-width=".85"/><path d="M54.4 29.9 L50.1 23.1" stroke="#568b41" stroke-width=".85"/><path d="M55.0 28.5 L62.3 26.9" stroke="#477938" stroke-width=".85"/><path d="M55.0 28.5 L51.0 22.1" stroke="#477938" stroke-width=".85"/><path d="M55.6 27.1 L62.4 25.7" stroke="#72a458" stroke-width=".85"/><path d="M55.6 27.1 L51.9 21.2" stroke="#477938" stroke-width=".85"/><path d="M56.2 25.8 L62.5 24.6" stroke="#568b41" stroke-width=".85"/><path d="M56.2 25.8 L52.9 20.2" stroke="#72a458" stroke-width=".85"/><path d="M56.8 24.4 L62.5 23.4" stroke="#568b41" stroke-width=".85"/><path d="M56.8 24.4 L53.9 19.3" stroke="#72a458" stroke-width=".85"/><path d="M57.4 23.0 L62.6 22.2" stroke="#568b41" stroke-width=".85"/><path d="M57.4 23.0 L54.9 18.5" stroke="#477938" stroke-width=".85"/><path d="M58.1 21.7 L62.7 21.0" stroke="#72a458" stroke-width=".85"/><path d="M58.1 21.7 L55.9 17.6" stroke="#568b41" stroke-width=".85"/><path d="M58.8 20.4 L62.7 19.9" stroke="#65994c" stroke-width=".85"/><path d="M58.8 20.4 L56.9 16.8" stroke="#568b41" stroke-width=".85"/><path d="M59.4 19.1 L62.7 18.7" stroke="#477938" stroke-width=".85"/><path d="M59.4 19.1 L58.0 16.1" stroke="#65994c" stroke-width=".85"/><path d="M60.2 17.7 L62.7 17.5" stroke="#72a458" stroke-width=".85"/><path d="M60.2 17.7 L59.0 15.4" stroke="#568b41" stroke-width=".85"/><path d="M60.9 16.4 L62.6 16.3" stroke="#65994c" stroke-width=".85"/><path d="M60.9 16.4 L60.1 14.9" stroke="#477938" stroke-width=".85"/><path d="M61.6 15.1 L62.4 15.1" stroke="#568b41" stroke-width=".85"/><path d="M61.6 15.1 L61.3 14.4" stroke="#568b41" stroke-width=".85"/><path d="M50.0 43.5 Q54.0 28.0 62.0 14.5" stroke="#3f6f36" stroke-width=".7"/></g>
<!-- gymnosperm --><g transform="translate(572,122)" filter="url(#bl2)" fill="none" stroke-linecap="round"><path d="M36.500 54 L36 60.500 L39.500 60.500 L38.500 54 Z" fill="#8f8a78"/><path d="M38.200 19.500 Q49 28 55 47 L54 54 L38 53 L22 54 L21.500 47 Q28 28 38.200 19.500 Z" fill="#3f5c38" opacity=".4"/><path d="M38 20.7 Q39.1 20.9 40.2 22.3" stroke="#33502e" stroke-width="1.3"/><path d="M38 20.7 Q36.9 20.9 35.9 22.4" stroke="#385633" stroke-width="1.4"/><path d="M38 21.9 Q39.8 22.1 41.6 24.1" stroke="#4d6a42" stroke-width="1.0"/><path d="M38 21.9 Q36.3 22.1 34.7 23.2" stroke="#33502e" stroke-width="1.0"/><path d="M38 23.2 Q40.6 23.4 43.2 24.3" stroke="#7d9670" stroke-width="1.3"/><path d="M38 23.2 Q35.5 23.4 33.1 24.3" stroke="#7d9670" stroke-width="1.1"/><path d="M38 24.4 Q40.6 24.6 43.2 26.5" stroke="#385633" stroke-width="1.3"/><path d="M38 24.4 Q35.2 24.6 32.3 25.5" stroke="#33502e" stroke-width="1.0"/><path d="M38 25.7 Q41.2 25.9 44.5 27.3" stroke="#4d6a42" stroke-width="1.1"/><path d="M38 25.7 Q34.3 25.9 30.5 27.8" stroke="#3f5c38" stroke-width="1.0"/><path d="M38 26.9 Q42.0 27.1 46.0 28.9" stroke="#33502e" stroke-width="1.2"/><path d="M38 26.9 Q34.2 27.1 30.4 28.6" stroke="#2a4326" stroke-width="1.3"/><path d="M38 28.2 Q42.4 28.4 46.7 30.1" stroke="#4d6a42" stroke-width="1.0"/><path d="M38 28.2 Q33.6 28.4 29.3 29.5" stroke="#7d9670" stroke-width="1.0"/><path d="M38 29.4 Q42.7 29.6 47.4 31.5" stroke="#33502e" stroke-width="1.0"/><path d="M38 29.4 Q33.5 29.6 28.9 31.4" stroke="#2a4326" stroke-width="1.3"/><path d="M38 30.7 Q43.5 30.9 49.0 31.9" stroke="#33502e" stroke-width="1.0"/><path d="M38 30.7 Q32.9 30.9 27.8 32.1" stroke="#4d6a42" stroke-width="1.0"/><path d="M38 31.9 Q44.4 32.1 50.7 34.1" stroke="#2a4326" stroke-width="1.3"/><path d="M38 31.9 Q32.8 32.1 27.6 33.1" stroke="#33502e" stroke-width="1.1"/><path d="M38 33.2 Q44.8 33.4 51.7 34.6" stroke="#7d9670" stroke-width="1.0"/><path d="M38 33.2 Q32.2 33.4 26.4 35.0" stroke="#33502e" stroke-width="1.0"/><path d="M38 34.5 Q44.1 34.6 50.1 36.0" stroke="#385633" stroke-width="0.9"/><path d="M38 34.5 Q30.9 34.6 23.9 36.3" stroke="#385633" stroke-width="1.2"/><path d="M38 35.7 Q45.1 35.9 52.1 36.7" stroke="#385633" stroke-width="1.0"/><path d="M38 35.7 Q30.8 35.9 23.5 37.6" stroke="#33502e" stroke-width="1.4"/><path d="M38 37.0 Q45.1 37.1 52.1 38.7" stroke="#4d6a42" stroke-width="1.2"/><path d="M38 37.0 Q30.2 37.1 22.5 38.8" stroke="#33502e" stroke-width="1.3"/><path d="M38 38.2 Q46.0 38.4 53.9 39.9" stroke="#33502e" stroke-width="1.0"/><path d="M38 38.2 Q31.1 38.4 24.2 39.7" stroke="#33502e" stroke-width="1.1"/><path d="M38 39.5 Q46.0 39.6 53.9 41.5" stroke="#33502e" stroke-width="1.0"/><path d="M38 39.5 Q30.4 39.6 22.9 41.2" stroke="#33502e" stroke-width="1.0"/><path d="M38 40.7 Q45.8 40.9 53.7 41.7" stroke="#385633" stroke-width="1.3"/><path d="M38 40.7 Q30.0 40.9 22.0 42.8" stroke="#33502e" stroke-width="1.0"/><path d="M38 42.0 Q46.5 42.1 55.0 43.0" stroke="#7d9670" stroke-width="1.3"/><path d="M38 42.0 Q29.0 42.1 20.0 43.0" stroke="#33502e" stroke-width="1.2"/><path d="M38 43.2 Q45.7 43.4 53.4 45.3" stroke="#7d9670" stroke-width="1.0"/><path d="M38 43.2 Q29.9 43.4 21.9 44.9" stroke="#7d9670" stroke-width="1.2"/><path d="M38 44.5 Q46.9 44.6 55.9 45.5" stroke="#4d6a42" stroke-width="1.3"/><path d="M38 44.5 Q29.8 44.6 21.5 45.9" stroke="#2a4326" stroke-width="1.4"/><path d="M38 45.7 Q46.0 45.9 54.0 46.9" stroke="#33502e" stroke-width="1.2"/><path d="M38 45.7 Q28.5 45.9 19.0 47.9" stroke="#33502e" stroke-width="1.1"/><path d="M38 47.0 Q45.8 47.1 53.6 48.4" stroke="#2a4326" stroke-width="0.9"/><path d="M38 47.0 Q30.2 47.1 22.4 48.7" stroke="#385633" stroke-width="1.2"/><path d="M38 48.2 Q46.9 48.4 55.9 49.5" stroke="#33502e" stroke-width="1.3"/><path d="M38 48.2 Q28.3 48.4 18.6 50.4" stroke="#4d6a42" stroke-width="1.4"/><path d="M38 49.5 Q47.7 49.6 57.5 50.7" stroke="#385633" stroke-width="1.0"/><path d="M38 49.5 Q28.6 49.6 19.3 51.4" stroke="#7d9670" stroke-width="1.0"/><path d="M38 50.7 Q47.1 50.9 56.2 52.0" stroke="#33502e" stroke-width="1.4"/><path d="M38 50.7 Q29.5 50.9 21.1 52.7" stroke="#33502e" stroke-width="1.3"/><path d="M38 52.0 Q46.6 52.1 55.2 53.9" stroke="#2a4326" stroke-width="1.2"/><path d="M38 52.0 Q28.6 52.1 19.3 53.4" stroke="#385633" stroke-width="1.3"/><path d="M38 53.2 Q46.3 53.4 54.6 55.0" stroke="#385633" stroke-width="1.4"/><path d="M38 53.2 Q28.8 53.4 19.7 54.2" stroke="#385633" stroke-width="1.3"/><path d="M38 20 L38 54" stroke="#2f4a2b" stroke-width="1"/><path d="M36.500 21 L38.200 19.300 L40.500 22.500" stroke="#33502e" stroke-width="1.300"/></g>
<!-- dicot --><g transform="translate(706,65)" filter="url(#bl2)" fill="none" stroke-linecap="round">
<path d="M39.500 53 Q39 40 40.800 21" stroke="#6f917b" stroke-width=".9"/>
<path d="M39 44 Q36 39 33.500 35 M40.500 42.500 Q46 38 51 35.500 M39.800 36 Q37.500 33 36.500 30 M40.300 33 Q43 30 44 27.500 M39.300 48 L36.500 45.500 M40 47 L44 44" stroke="#7b9c86" stroke-width=".8"/>
<g fill="#8fb09a" stroke="none"><circle cx="40.800" cy="21" r="1.300"/><circle cx="40" cy="25" r="1.300"/><circle cx="41.500" cy="28.500" r="1.200"/><circle cx="33.500" cy="35" r="1.500"/><circle cx="51" cy="35.500" r="1.400"/><circle cx="36.500" cy="30" r="1.100"/><circle cx="44" cy="27.500" r="1.100"/><circle cx="46.500" cy="38.500" r="1"/><circle cx="36" cy="40" r="1"/><circle cx="44.500" cy="43.500" r="1"/><circle cx="39" cy="31" r="1"/><circle cx="42" cy="24" r="1"/><circle cx="38" cy="45" r="1"/></g>
<path d="M39.500 54 Q28 52.500 16 57.300" stroke="#1f4f40" stroke-width="2.600"/>
<path d="M38.500 55.500 Q31 58 27.500 65" stroke="#379272" stroke-width="5"/>
<path d="M36 57.500 Q31 60 29 64.500" stroke="#7fc4a6" stroke-width="1"/>
<path d="M42 53.500 Q54 49 65 54" stroke="#245845" stroke-width="3.400"/>
<path d="M42 55.500 Q50 56 58 61.500" stroke="#3a9474" stroke-width="4"/>
<path d="M45 56.800 Q51 58 56 61" stroke="#8fd0b4" stroke-width=".9"/>
<ellipse cx="40" cy="60.500" rx="3.200" ry="3.800" fill="#2f8062" stroke="none"/>
</g>
<!-- monocot --><g transform="translate(817,207)" filter="url(#bl2)" fill="none" stroke-linecap="round"><path d="M35.500 63.500 l3 -2.500 l3 1.500 l3 -1.500 l2 3 l-5 1.500 l-4 -.5 Z" fill="#3a3232" stroke="#3a3232" stroke-width=".8"/><path d="M40.8 61.0 Q35.1 48.4 19.2 38.1" stroke="#6aa53a" stroke-width="1.4"/><path d="M27.8 44.5 Q21.1 39.1 15.7 44.6" stroke="#a2d06a" stroke-width="1.4"/><path d="M27.7 44.4 Q32.5 38.9 36.5 43.9" stroke="#8cc152" stroke-width="1.4"/><path d="M40.8 61.0 Q35.7 45.3 21.4 32.5" stroke="#a2d06a" stroke-width="1.5"/><path d="M30.4 42.0 Q26.0 37.4 22.5 41.1" stroke="#86bd4e" stroke-width="1.0"/><path d="M28.1 39.2 Q21.6 34.4 16.4 40.2" stroke="#93c85a" stroke-width="1.3"/><path d="M40.8 61.0 Q36.6 42.8 24.6 27.9" stroke="#a2d06a" stroke-width="1.0"/><path d="M36.3 47.4 Q31.1 41.6 26.9 49.7" stroke="#86bd4e" stroke-width="1.4"/><path d="M34.8 43.9 Q39.6 38.6 43.5 43.3" stroke="#a2d06a" stroke-width="1.1"/><path d="M40.8 61.0 Q37.7 41.8 28.9 26.1" stroke="#86bd4e" stroke-width="1.5"/><path d="M33.2 34.8 Q37.7 30.4 41.5 39.2" stroke="#8cc152" stroke-width="1.2"/><path d="M37.6 46.8 Q31.2 43.5 25.9 47.4" stroke="#78b043" stroke-width="1.0"/><path d="M40.8 61.0 Q38.7 39.8 32.9 22.4" stroke="#86bd4e" stroke-width="1.1"/><path d="M36.4 34.3 Q41.7 29.3 46.2 36.3" stroke="#93c85a" stroke-width="1.3"/><path d="M38.3 43.2 Q34.0 39.9 30.5 46.1" stroke="#a2d06a" stroke-width="1.6"/><path d="M40.8 61.0 Q39.9 39.8 37.3 22.5" stroke="#6aa53a" stroke-width="1.2"/><path d="M38.5 31.5 Q43.6 26.5 47.8 35.6" stroke="#86bd4e" stroke-width="1.0"/><path d="M39.7 44.0 Q35.9 38.6 32.7 46.7" stroke="#a2d06a" stroke-width="1.0"/><path d="M40.8 61.0 Q41.0 38.9 41.5 20.7" stroke="#6aa53a" stroke-width="1.3"/><path d="M41.0 45.7 Q46.9 40.9 51.7 45.5" stroke="#6aa53a" stroke-width="1.1"/><path d="M41.1 38.9 Q46.0 34.1 50.0 39.3" stroke="#8cc152" stroke-width="1.1"/><path d="M40.8 61.0 Q42.2 37.9 46.2 19.0" stroke="#6aa53a" stroke-width="1.1"/><path d="M44.6 27.6 Q50.4 24.3 55.2 29.1" stroke="#86bd4e" stroke-width="1.3"/><path d="M42.7 40.4 Q47.8 34.7 52.0 41.9" stroke="#a2d06a" stroke-width="1.2"/><path d="M40.8 61.0 Q43.1 40.9 49.7 24.5" stroke="#8cc152" stroke-width="1.5"/><path d="M43.4 45.3 Q49.4 42.0 54.3 47.9" stroke="#93c85a" stroke-width="1.6"/><path d="M43.7 44.0 Q38.9 40.8 35.1 45.6" stroke="#93c85a" stroke-width="1.2"/><path d="M40.8 61.0 Q44.3 41.7 54.2 25.8" stroke="#93c85a" stroke-width="1.0"/><path d="M44.8 45.6 Q49.7 41.1 53.8 49.0" stroke="#93c85a" stroke-width="1.4"/><path d="M49.9 33.4 Q55.0 30.3 59.1 34.3" stroke="#6aa53a" stroke-width="1.4"/><path d="M40.8 61.0 Q45.2 43.8 57.6 29.7" stroke="#8cc152" stroke-width="1.2"/><path d="M45.8 47.3 Q40.4 44.2 36.0 48.6" stroke="#8cc152" stroke-width="1.4"/><path d="M45.7 47.4 Q50.7 43.0 54.8 47.0" stroke="#86bd4e" stroke-width="1.5"/><path d="M40.8 61.0 Q45.9 46.3 60.4 34.3" stroke="#86bd4e" stroke-width="1.4"/><path d="M50.5 44.1 Q55.6 39.3 59.8 46.6" stroke="#86bd4e" stroke-width="1.1"/><path d="M46.4 49.6 Q41.2 43.8 36.9 50.6" stroke="#8cc152" stroke-width="1.3"/><path d="M40.8 61.0 Q46.5 48.8 62.6 38.8" stroke="#6aa53a" stroke-width="1.0"/><path d="M53.5 45.2 Q47.7 41.5 42.9 47.1" stroke="#8cc152" stroke-width="1.1"/><path d="M53.9 44.9 Q59.3 40.8 63.8 49.3" stroke="#93c85a" stroke-width="1.4"/><g stroke="#5f9f38" stroke-width="1.300"><path d="M40.600 61 Q38 48 34 36"/><path d="M40.900 61 Q43 48 46 36"/><path d="M40.800 62 L40.600 48"/><path d="M40.800 62 Q37 52 31 46"/><path d="M40.800 62 Q45 52 51 46"/></g><circle cx="30.0" cy="25.9" r="1.1" fill="#cfc592" stroke="none"/><circle cx="28.2" cy="25.3" r="1.0" fill="#e2dab4" stroke="none"/><circle cx="31.5" cy="25.7" r="1.0" fill="#cfc592" stroke="none"/><circle cx="26.8" cy="24.9" r="0.9" fill="#d9d0a2" stroke="none"/><circle cx="30.4" cy="27.5" r="0.8" fill="#e2dab4" stroke="none"/><circle cx="26.2" cy="26.0" r="1.2" fill="#d4cc9c" stroke="none"/><circle cx="28.1" cy="26.1" r="1.0" fill="#d4cc9c" stroke="none"/><circle cx="35.2" cy="21.7" r="1.0" fill="#cfc592" stroke="none"/><circle cx="33.4" cy="21.8" r="1.1" fill="#d9d0a2" stroke="none"/><circle cx="33.9" cy="22.1" r="0.8" fill="#cfc592" stroke="none"/><circle cx="31.1" cy="21.2" r="0.7" fill="#d9d0a2" stroke="none"/><circle cx="32.5" cy="22.8" r="1.0" fill="#cfc592" stroke="none"/><circle cx="36.1" cy="23.0" r="0.8" fill="#d4cc9c" stroke="none"/><circle cx="31.2" cy="23.1" r="1.1" fill="#d9d0a2" stroke="none"/><circle cx="40.5" cy="21.4" r="1.0" fill="#e2dab4" stroke="none"/><circle cx="40.8" cy="21.7" r="1.2" fill="#d9d0a2" stroke="none"/><circle cx="40.9" cy="22.0" r="0.9" fill="#d4cc9c" stroke="none"/><circle cx="41.2" cy="21.1" r="1.2" fill="#d4cc9c" stroke="none"/><circle cx="41.9" cy="21.2" r="1.0" fill="#cfc592" stroke="none"/><circle cx="41.3" cy="21.2" r="0.8" fill="#d9d0a2" stroke="none"/><circle cx="39.5" cy="22.0" r="1.2" fill="#cfc592" stroke="none"/><circle cx="48.3" cy="18.4" r="1.2" fill="#d9d0a2" stroke="none"/><circle cx="45.2" cy="17.6" r="0.9" fill="#d4cc9c" stroke="none"/><circle cx="48.1" cy="18.9" r="0.7" fill="#d9d0a2" stroke="none"/><circle cx="45.7" cy="17.5" r="1.0" fill="#e2dab4" stroke="none"/><circle cx="46.0" cy="20.6" r="1.2" fill="#d4cc9c" stroke="none"/><circle cx="49.3" cy="18.9" r="1.2" fill="#d9d0a2" stroke="none"/><circle cx="48.0" cy="18.8" r="1.0" fill="#e2dab4" stroke="none"/><circle cx="52.1" cy="24.7" r="0.9" fill="#d4cc9c" stroke="none"/><circle cx="52.8" cy="25.7" r="1.0" fill="#cfc592" stroke="none"/><circle cx="52.1" cy="26.0" r="1.0" fill="#d4cc9c" stroke="none"/><circle cx="47.6" cy="24.6" r="1.0" fill="#d4cc9c" stroke="none"/><circle cx="46.4" cy="26.0" r="1.0" fill="#d4cc9c" stroke="none"/><circle cx="50.0" cy="26.0" r="0.8" fill="#d9d0a2" stroke="none"/><circle cx="51.0" cy="23.1" r="1.0" fill="#d4cc9c" stroke="none"/><circle cx="56.3" cy="25.5" r="0.8" fill="#d4cc9c" stroke="none"/><circle cx="51.6" cy="25.6" r="1.1" fill="#d4cc9c" stroke="none"/><circle cx="54.4" cy="24.6" r="0.9" fill="#d9d0a2" stroke="none"/><circle cx="57.2" cy="24.6" r="1.1" fill="#d9d0a2" stroke="none"/><circle cx="51.0" cy="24.7" r="0.7" fill="#cfc592" stroke="none"/><circle cx="53.0" cy="25.4" r="1.0" fill="#d9d0a2" stroke="none"/><circle cx="54.2" cy="26.1" r="1.1" fill="#cfc592" stroke="none"/><circle cx="59.0" cy="30.9" r="0.7" fill="#d4cc9c" stroke="none"/><circle cx="59.8" cy="30.0" r="1.0" fill="#e2dab4" stroke="none"/><circle cx="57.8" cy="30.8" r="1.0" fill="#e2dab4" stroke="none"/><circle cx="55.7" cy="30.4" r="1.1" fill="#e2dab4" stroke="none"/><circle cx="56.3" cy="29.1" r="1.2" fill="#e2dab4" stroke="none"/><circle cx="59.5" cy="28.7" r="0.7" fill="#e2dab4" stroke="none"/><circle cx="55.0" cy="28.3" r="0.9" fill="#d4cc9c" stroke="none"/><circle cx="59.9" cy="35.2" r="0.8" fill="#d4cc9c" stroke="none"/><circle cx="61.3" cy="35.3" r="0.7" fill="#cfc592" stroke="none"/><circle cx="63.3" cy="35.8" r="0.8" fill="#cfc592" stroke="none"/><circle cx="60.4" cy="34.9" r="0.8" fill="#d9d0a2" stroke="none"/><circle cx="60.3" cy="32.8" r="1.1" fill="#d4cc9c" stroke="none"/><circle cx="58.0" cy="33.3" r="0.8" fill="#e2dab4" stroke="none"/><circle cx="63.9" cy="35.7" r="0.7" fill="#d9d0a2" stroke="none"/></g>
<!--/PLANTS-->
</svg>

<div class="t" style="left:15.6px;top:18.97px;font-size:30.5px;transform:scaleX(1.1762)">Evolution</div>
<div class="t" style="left:176.8px;top:18.97px;font-size:30.5px;transform:scaleX(1.1880)">of</div>
<div class="t" style="left:219.1px;top:18.97px;font-size:30.5px;transform:scaleX(1.1944)">land</div>
<div class="t" style="left:299.6px;top:18.97px;font-size:30.5px;transform:scaleX(1.2090)">plants</div>
<div class="t" style="left:408.5px;top:18.97px;font-size:30.5px;transform:scaleX(1.2361)">(simplified)</div>
<div class="t" style="left:45.3px;top:351.30px;font-size:16.5px;transform:scaleX(1.0854)">Green algae</div>
<div class="t" style="left:186.9px;top:296.50px;font-size:16.5px;transform:scaleX(1.0964)">Mosses</div>
<div class="t" style="left:319.9px;top:263.50px;font-size:16.5px;transform:scaleX(1.1481)">Lycophytes</div>
<div class="t" style="left:478.3px;top:243.20px;font-size:16.5px;transform:scaleX(1.0951)">Ferns</div>
<div class="t" style="left:550.1px;top:206.70px;font-size:16.5px;transform:scaleX(1.1038)">Gymnosperms</div>
<div class="t" style="left:723.1px;top:153.10px;font-size:16.5px;transform:scaleX(1.1500)">Dicots</div>
<div class="t" style="left:817.9px;top:183.50px;font-size:16.5px;transform:scaleX(1.1200)">Monocots</div>
<div class="t" style="left:149.6px;top:476.00px;font-size:16.5px;transform:scaleX(1.1429)">Land plants</div>
<div class="t" style="left:296.8px;top:446.60px;font-size:16.5px;transform:scaleX(1.1432)">Vascular plants</div>
<div class="t" style="left:545.4px;top:426.60px;font-size:16.5px;transform:scaleX(1.1419)">Seed plants</div>
<div class="t" style="left:671.2px;top:400.90px;font-size:16.5px;transform:scaleX(1.1529)">Flowering plants</div>
<div class="t" style="left:31.7px;top:504.46px;font-size:14.5px;transform:scaleX(1.1744)">~ 1500</div>
<div class="t" style="left:145.3px;top:504.46px;font-size:14.5px;transform:scaleX(1.2714)">~ 500</div>
<div class="t" style="left:288.0px;top:503.36px;font-size:14.5px;transform:scaleX(1.2114)">~ 420</div>
<div class="t" style="left:549.9px;top:503.46px;font-size:14.5px;transform:scaleX(1.2171)">~ 350</div>
<div class="t" style="left:676.1px;top:501.66px;font-size:14.5px;transform:scaleX(1.1543)">~ 150</div>
<div class="t" style="left:348.7px;top:536.67px;font-size:20.5px;transform:scaleX(1.1421)">million years ago</div>
</body></html>
